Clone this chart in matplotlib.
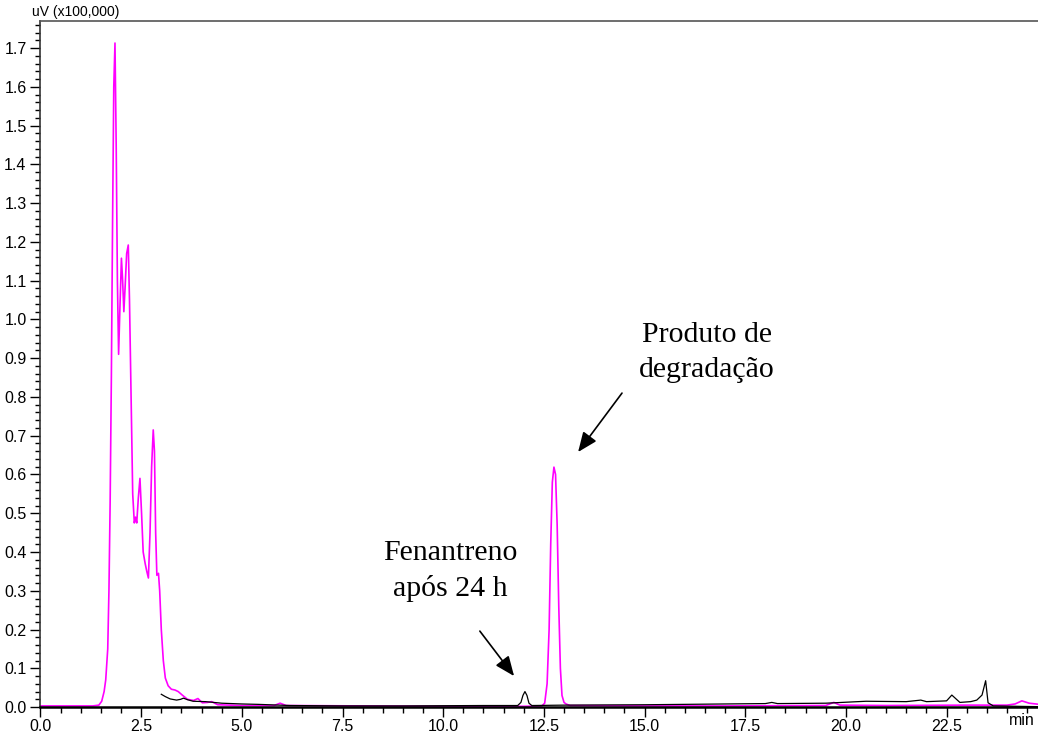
import matplotlib
matplotlib.use("Agg")
import matplotlib.pyplot as plt
from matplotlib.ticker import MultipleLocator, FormatStrFormatter

# Chromatogram traces: retention time (min) and detector signal (uV x 100,000)
time_product = [0.0, 1.3, 1.45, 1.52, 1.58, 1.62, 1.67, 1.70, 1.73, 1.76, 1.79, 1.82, 1.85,
                1.88, 1.91, 1.94, 1.97, 2.01, 2.04, 2.07, 2.10, 2.14, 2.18, 2.21, 2.25,
                2.29, 2.33, 2.36, 2.39, 2.43, 2.47, 2.51, 2.55, 2.60, 2.64, 2.68, 2.72,
                2.76, 2.80, 2.83, 2.86, 2.89, 2.93, 2.96, 3.00, 3.05, 3.10, 3.17, 3.25,
                3.34, 3.42, 3.52, 3.65, 3.80, 3.91, 4.02, 4.15, 4.25, 4.40, 5.0, 5.8,
                5.95, 6.1, 8.0, 10.0, 12.0, 12.45, 12.52, 12.58, 12.63, 12.67, 12.71,
                12.75, 12.79, 12.83, 12.87, 12.91, 12.95, 13.0, 13.05, 13.15, 15.0,
                17.0, 19.5, 19.7, 19.85, 21.0, 23.0, 24.0, 24.2, 24.37, 24.55, 24.8]
signal_product = [0.003, 0.003, 0.005, 0.015, 0.04, 0.07, 0.15, 0.30, 0.53, 0.85, 1.25, 1.60,
                  1.713, 1.45, 1.10, 0.91, 1.02, 1.158, 1.10, 1.02, 1.08, 1.17, 1.192, 1.05,
                  0.80, 0.55, 0.475, 0.49, 0.475, 0.54, 0.59, 0.50, 0.40, 0.37, 0.35, 0.333,
                  0.45, 0.62, 0.715, 0.66, 0.45, 0.34, 0.345, 0.30, 0.20, 0.12, 0.075, 0.055,
                  0.046, 0.044, 0.040, 0.031, 0.020, 0.017, 0.022, 0.011, 0.012, 0.014, 0.006,
                  0.004, 0.004, 0.010, 0.004, 0.003, 0.002, 0.002, 0.003, 0.010, 0.06, 0.20,
                  0.42, 0.58, 0.619, 0.60, 0.47, 0.26, 0.10, 0.03, 0.012, 0.008, 0.004,
                  0.003, 0.003, 0.004, 0.012, 0.005, 0.004, 0.005, 0.005, 0.008, 0.016,
                  0.010, 0.007]

time_phen = [3.00, 3.10, 3.22, 3.38, 3.48, 3.55, 3.65, 3.79, 4.1, 4.5, 5.0, 5.4, 6.2, 7.5,
             9.0, 11.0, 11.85, 11.93, 11.98, 12.03, 12.08, 12.13, 12.2, 13.0, 15.0, 17.0,
             18.0, 18.16, 18.3, 19.5, 20.5, 21.5, 21.86, 22.0, 22.5, 22.63, 22.83, 23.1,
             23.25, 23.38, 23.47, 23.53, 23.66, 24.8]
signal_phen = [0.033, 0.027, 0.021, 0.018, 0.020, 0.023, 0.019, 0.015, 0.014, 0.010, 0.008,
               0.007, 0.004, 0.003, 0.003, 0.004, 0.004, 0.012, 0.030, 0.040, 0.030, 0.010,
               0.004, 0.005, 0.006, 0.008, 0.009, 0.012, 0.009, 0.010, 0.015, 0.014, 0.018,
               0.014, 0.016, 0.031, 0.012, 0.014, 0.018, 0.031, 0.068, 0.011, 0.003, 0.001]

x_max = 24.77
y_max = 1.771

plt.rcParams['font.family'] = ['Liberation Sans', 'DejaVu Sans']

fig = plt.figure(figsize=(10.38, 7.35), dpi=100)
ax = fig.add_axes([0.039, 0.038, 0.961, 0.934])

ax.plot(time_product, signal_product, color='#FF00FF', lw=1.2, zorder=2)
ax.plot(time_phen, signal_phen, color='black', lw=0.9, zorder=3)

ax.set_xlim(0, x_max)
ax.set_ylim(0, y_max)

ax.xaxis.set_major_locator(MultipleLocator(2.5))
ax.xaxis.set_minor_locator(MultipleLocator(0.5))
ax.yaxis.set_major_locator(MultipleLocator(0.1))
ax.yaxis.set_minor_locator(MultipleLocator(0.02))
ax.xaxis.set_major_formatter(FormatStrFormatter('%.1f'))
ax.yaxis.set_major_formatter(FormatStrFormatter('%.1f'))

ax.tick_params(axis='both', which='major', direction='out', labelsize=11.5, width=1.0)
ax.tick_params(axis='x', which='major', length=7, pad=1.5)
ax.tick_params(axis='x', which='minor', length=4.5, width=1.0)
ax.tick_params(axis='y', which='major', length=7, pad=3)
ax.tick_params(axis='y', which='minor', length=3.5, width=1.0)

ax.spines['right'].set_visible(False)
ax.spines['top'].set_color('#555555')
ax.spines['top'].set_linewidth(1.2)
ax.spines['left'].set_color('#333333')
ax.spines['left'].set_linewidth(1.2)
ax.spines['bottom'].set_color('black')
ax.spines['bottom'].set_linewidth(1.8)

fig.text(0.031, 0.983, 'uV (x100,000)', fontsize=10, ha='left', va='center')
fig.text(0.997, 0.020, 'min', fontsize=11.5, ha='right', va='center')

serif = ['Liberation Serif', 'DejaVu Serif']
arrow = dict(arrowstyle='-|>,head_length=0.6,head_width=0.25', color='black',
             lw=1.2, shrinkA=0, shrinkB=0, mutation_scale=20)

ax.text(16.55, 0.916, 'Produto de\ndegradação', fontsize=21.5, family=serif,
        ha='center', va='center', linespacing=1.45)
ax.annotate('', xy=(13.35, 0.658), xytext=(14.44, 0.81), arrowprops=arrow)

ax.text(10.17, 0.351, 'Fenantreno\napós 24 h', fontsize=21.5, family=serif,
        ha='center', va='center', linespacing=1.45)
ax.annotate('', xy=(11.76, 0.08), xytext=(10.91, 0.196), arrowprops=arrow)

fig.savefig('out.png', dpi=100)
